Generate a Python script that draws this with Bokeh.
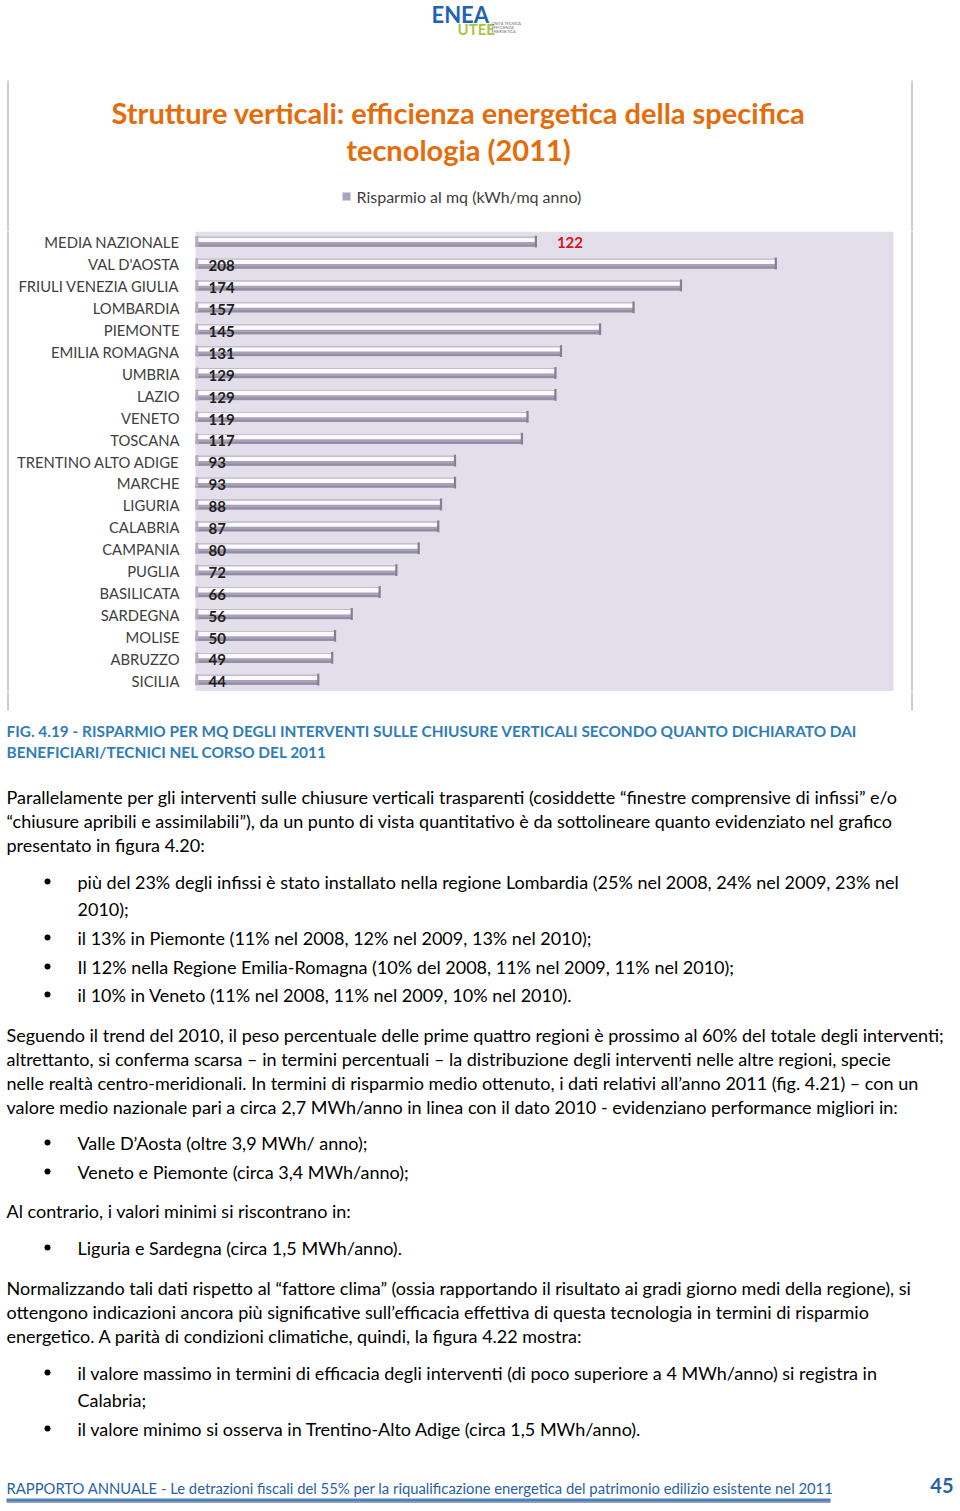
from bokeh.plotting import figure
from bokeh.layouts import column
from bokeh.models import Range1d, FactorRange, BoxAnnotation, Span, ColumnDataSource
from bokeh.transform import dodge
from bokeh.core.properties import value
from bokeh.embed import file_html
from bokeh.resources import INLINE

# ---------------- data ----------------
regions = ["MEDIA NAZIONALE", "VAL D'AOSTA", "FRIULI VENEZIA GIULIA", "LOMBARDIA", "PIEMONTE",
           "EMILIA ROMAGNA", "UMBRIA", "LAZIO", "VENETO", "TOSCANA", "TRENTINO ALTO ADIGE",
           "MARCHE", "LIGURIA", "CALABRIA", "CAMPANIA", "PUGLIA", "BASILICATA", "SARDEGNA",
           "MOLISE", "ABRUZZO", "SICILIA"]
savings = [122, 208, 174, 157, 145, 131, 129, 129, 119, 117, 93, 93, 88, 87, 80, 72, 66, 56, 50, 49, 44]

chart_title = ["Strutture verticali: efficienza energetica della specifica", "tecnologia (2011)"]
legend_label = "Risparmio al mq (kWh/mq anno)"

# ---------------- layout constants ----------------
W = 960
FONT = "Lato"
X0 = 195.0      # page x of value 0
K = 2.79        # px per kWh/mq

def v(px):
    return (px - X0) / K

def style(p):
    p.outline_line_color = None
    p.grid.visible = False
    p.min_border = 0
    p.background_fill_color = "white"
    p.border_fill_color = "white"
    return p

def page_fig(h, y_top, y_bot):
    p = figure(width=W, height=h, x_range=Range1d(0, W), y_range=Range1d(y_bot, y_top),
               x_axis_type=None, y_axis_type=None, output_backend="svg", toolbar_location=None,
               min_border=0)
    return style(p)

def txt(p, x, y, s, size, color="#000000", bold=False, align="left", font=FONT, **kw):
    p.text(x=[x], y=[y], text=[s], text_font=value(font), text_font_size=f"{size}px",
           text_color=color, text_font_style="bold" if bold else "normal",
           text_align=align, text_baseline="middle", **kw)

FRAME_COL = "#9c9c9c"
LX, RX = 7.5, 911.5

# ---------------- header ----------------
ph = page_fig(231, 0, 231)
# logo
txt(ph, 431, 14, "ENEA", 22, color="#1f63b3", bold=True)
txt(ph, 457, 28, "UTEE", 15, color="#a8c63c", bold=True)
for i, s in enumerate(["UNITÀ TECNICA", "EFFICIENZA", "ENERGETICA"]):
    txt(ph, 491, 23 + 4 * i, s, 4, color="#707070")
# frame lines
ph.segment(x0=[LX, RX], y0=[80, 80], x1=[LX, RX], y1=[231, 231], line_color=FRAME_COL, line_width=1)
# title
txt(ph, 458, 112, chart_title[0], 29, color="#e46c0a", bold=True, align="center")
txt(ph, 458, 149, chart_title[1], 29, color="#e46c0a", bold=True, align="center")
# legend
ph.scatter(x=[346], y=[196], marker="square", size=8, fill_color="#aaa4ba", line_color="#d6d2de")
txt(ph, 356, 196, legend_label, 16, color="#404040")

# ---------------- chart ----------------
pc = figure(width=W, height=460, x_range=Range1d(v(0), v(W)),
            y_range=FactorRange(factors=list(reversed(regions))),
            x_axis_type=None, y_axis_type=None, output_backend="svg", toolbar_location=None,
            min_border=0)
style(pc)
pc.extra_x_ranges = {"page": Range1d(0, W)}
pc.add_layout(BoxAnnotation(left=195, right=893, x_range_name="page", fill_color="#e2deea",
                            fill_alpha=1, line_color=None, level="underlay"))
for xl in (LX, RX):
    pc.add_layout(Span(location=xl, dimension="height", x_range_name="page",
                       line_color=FRAME_COL, line_width=1))

src = ColumnDataSource(dict(region=regions, saving=savings))
src_reg = ColumnDataSource(dict(region=regions[1:], saving=savings[1:],
                                label=[str(s) for s in savings[1:]]))
src_med = ColumnDataSource(dict(region=regions[:1], saving=savings[:1],
                                label=[str(s) for s in savings[:1]]))

yr = pc.y_range
# bar body (shadow), highlight, end cap, base cap
pc.hbar(y=dodge("region", 0.03, range=yr), left=0, right="saving", height=0.46, source=src,
        fill_color="#a8a2b8", line_color=None)
pc.hbar(y=dodge("region", -0.14, range=yr), left=0, right="saving", height=0.09, source=src,
        fill_color="#938da3", line_color=None)
pc.hbar(y=dodge("region", 0.12, range=yr), left=0, right="saving", height=0.2, source=src,
        fill_color="#fbfafd", line_color=None)
pc.hbar(y=dodge("region", 0.24, range=yr), left=0, right="saving", height=0.04, source=src,
        fill_color="#c4bfd0", line_color=None)
pc.rect(x="saving", y=dodge("region", 0.04, range=yr), width=0.8, height=0.54, source=src,
        fill_color="#857f96", line_color=None)
pc.rect(x=0.5, y=dodge("region", 0.04, range=yr), width=1.0, height=0.5, source=src,
        fill_color="#b3adc2", line_color=None)

# category labels
pc.text(x=v(179), y="region", text="region", source=src, text_font=value(FONT),
        text_font_size="14.8px", text_color="#404040", text_align="right", text_baseline="middle")
# value labels (inside base)
pc.text(x=v(208), y=dodge("region", -0.06, range=yr), text="label", source=src_reg,
        text_font=value(FONT), text_font_size="15px", text_font_style="bold",
        text_color="#1e1e1e", text_align="left", text_baseline="middle")
# national average label (outside end, red)
pc.text(x="saving", y="region", text="label", source=src_med, x_offset=21,
        text_font=value(FONT), text_font_size="15px", text_font_style="bold",
        text_color="#d8141e", text_align="left", text_baseline="middle")

# ---------------- text body ----------------
pt = page_fig(820, 691, 1511)
pt.segment(x0=[LX, RX], y0=[691, 691], x1=[LX, RX], y1=[710, 710], line_color=FRAME_COL, line_width=1)

CAP = "#2e7dbb"
txt(pt, 6, 730, "FIG. 4.19 - RISPARMIO PER MQ DEGLI INTERVENTI SULLE CHIUSURE VERTICALI SECONDO QUANTO DICHIARATO DAI", 15.4, color=CAP, bold=True)
txt(pt, 6, 751, "BENEFICIARI/TECNICI NEL CORSO DEL 2011", 15.4, color=CAP, bold=True)

BODY = 18
body_lines = [
    (6, 796, "Parallelamente per gli interventi sulle chiusure verticali trasparenti (cosiddette “finestre comprensive di infissi” e/o", False),
    (6, 820, "“chiusure apribili e assimilabili”), da un punto di vista quantitativo è da sottolineare quanto evidenziato nel grafico", False),
    (6, 844, "presentato in figura 4.20:", False),
    (77, 881, "più del 23% degli infissi è stato installato nella regione Lombardia (25% nel 2008, 24% nel 2009, 23% nel", True),
    (77, 908, "2010);", False),
    (77, 937, "il 13% in Piemonte (11% nel 2008, 12% nel 2009, 13% nel 2010);", True),
    (77, 966, "Il 12% nella Regione Emilia-Romagna (10% del 2008, 11% nel 2009, 11% nel 2010);", True),
    (77, 994, "il 10% in Veneto (11% nel 2008, 11% nel 2009, 10% nel 2010).", True),
    (6, 1034, "Seguendo il trend del 2010, il peso percentuale delle prime quattro regioni è prossimo al 60% del totale degli interventi;", False),
    (6, 1058, "altrettanto, si conferma scarsa – in termini percentuali – la distribuzione degli interventi nelle altre regioni, specie", False),
    (6, 1082, "nelle realtà centro-meridionali. In termini di risparmio medio ottenuto, i dati relativi all’anno 2011 (fig. 4.21) – con un", False),
    (6, 1106, "valore medio nazionale pari a circa 2,7 MWh/anno in linea con il dato 2010 - evidenziano performance migliori in:", False),
    (77, 1142, "Valle D’Aosta (oltre 3,9 MWh/ anno);", True),
    (77, 1171, "Veneto e Piemonte (circa 3,4 MWh/anno);", True),
    (6, 1210, "Al contrario, i valori minimi si riscontrano in:", False),
    (77, 1247, "Liguria e Sardegna (circa 1,5 MWh/anno).", True),
    (6, 1287, "Normalizzando tali dati rispetto al “fattore clima” (ossia rapportando il risultato ai gradi giorno medi della regione), si", False),
    (6, 1311, "ottengono indicazioni ancora più significative sull’efficacia effettiva di questa tecnologia in termini di risparmio", False),
    (6, 1335, "energetico. A parità di condizioni climatiche, quindi, la figura 4.22 mostra:", False),
    (77, 1372, "il valore massimo in termini di efficacia degli interventi (di poco superiore a 4 MWh/anno) si registra in", True),
    (77, 1399, "Calabria;", False),
    (77, 1428, "il valore minimo si osserva in Trentino-Alto Adige (circa 1,5 MWh/anno).", True),
]
for x, y, s, bullet in body_lines:
    txt(pt, x, y, s, BODY, color="#000000")
    if bullet:
        pt.scatter(x=[47], y=[y], marker="circle", size=6, fill_color="#000000", line_color=None)

# footer
FOOT = "#2a5fa8"
txt(pt, 6, 1487, "RAPPORTO ANNUALE - Le detrazioni fiscali del 55% per la riqualificazione energetica del patrimonio edilizio esistente nel 2011", 14.8, color=FOOT)
txt(pt, 953, 1485, "45", 20, color=FOOT, bold=True, align="right")
pt.segment(x0=[6], y0=[1501.5], x1=[830], y1=[1501.5], line_color="#9aa5b5", line_width=2)
pt.segment(x0=[6], y0=[1499.5], x1=[830], y1=[1499.5], line_color="#4f81bd", line_width=3)

layout = column(ph, pc, pt, spacing=0)
open("out.html", "w").write(file_html(layout, INLINE))
